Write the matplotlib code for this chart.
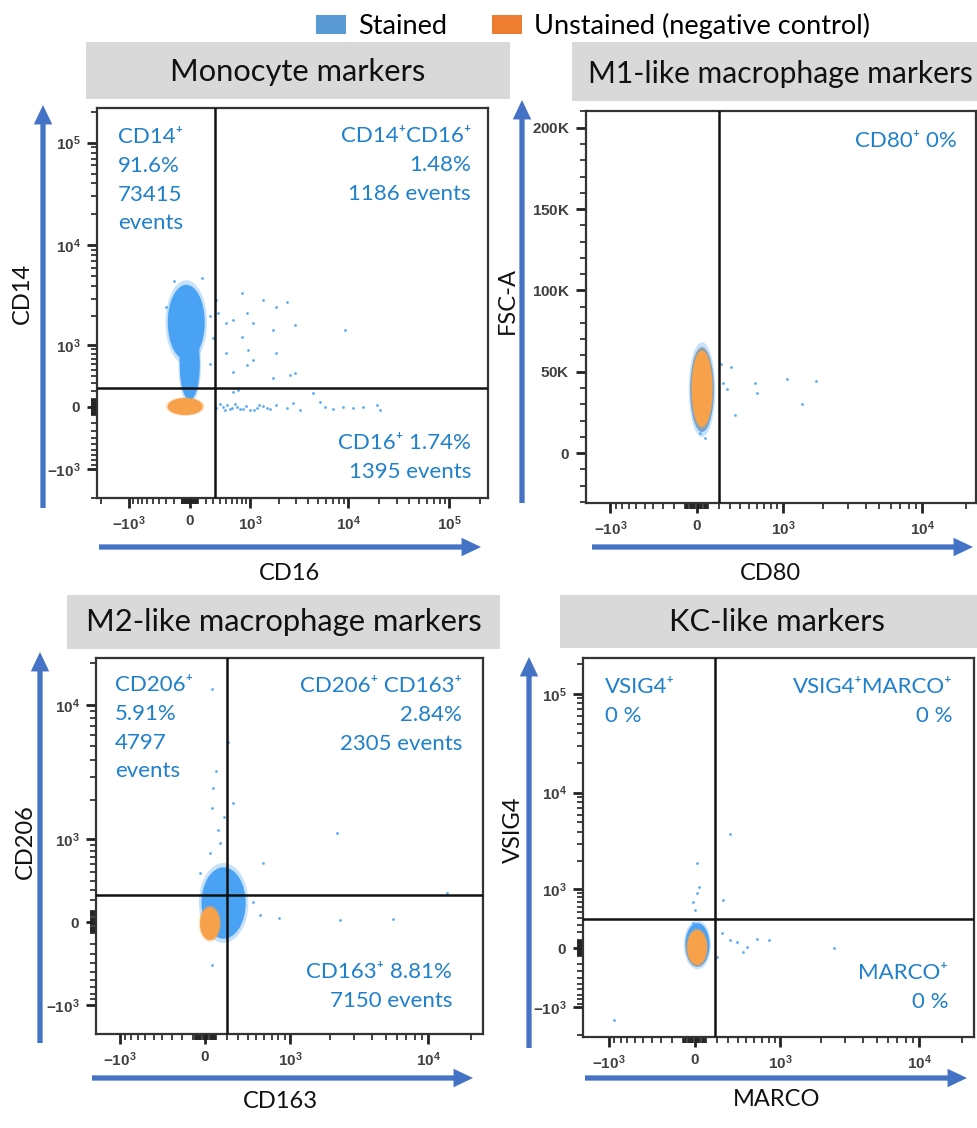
import numpy as np
import matplotlib
matplotlib.use("Agg")
import matplotlib.pyplot as plt
from matplotlib.patches import Ellipse, Rectangle, Patch, FancyArrowPatch
from matplotlib.ticker import FixedLocator, FixedFormatter

plt.rcParams['font.family'] = ['Lato', 'DejaVu Sans']
plt.rcParams['mathtext.fontset'] = 'custom'
plt.rcParams['mathtext.rm'] = 'Liberation Sans'
plt.rcParams['mathtext.bf'] = 'Liberation Sans:bold'

W, H = 977, 1128
STAIN = "#4aa2f4"
UNSTAIN = "#f7a24a"
TEXT_BLUE = "#1f80cc"
ARROW_BLUE = "#4472c4"
LEG_BLUE = "#5b9bd5"
LEG_ORANGE = "#ed7d31"

# ---------------- data ----------------
titles = ["Monocyte markers", "M1-like macrophage markers",
          "M2-like macrophage markers", "KC-like markers"]
x_labels = ["CD16", "CD80", "CD163", "MARCO"]
y_labels = ["CD14", "FSC-A", "CD206", "VSIG4"]

x_limits = [(-2190, 242000), (-1530, 23600), (-1520, 24300), (-1570, 24100)]
y_limits = [(-2020, 217000), (-30700, 210300), (-1690, 21900), (-2090, 230600)]
gate_x = [322, 193, 195, 180]
gate_y = [235, None, 249, 385]

log_major = [-1000, 0, 1000, 10000, 100000]
log_major_labels = [r"$\mathbf{-10^{3}}$", r"$\mathbf{0}$", r"$\mathbf{10^{3}}$",
                    r"$\mathbf{10^{4}}$", r"$\mathbf{10^{5}}$"]
fsc_major = [0, 50000, 100000, 150000, 200000]
fsc_major_labels = [r"$\mathbf{0}$", r"$\mathbf{50K}$", r"$\mathbf{100K}$",
                    r"$\mathbf{150K}$", r"$\mathbf{200K}$"]

# dense populations as (x_low, x_high, y_low, y_high)
stained_pops = [
    [(-280, 187, 675, 4120), (-124, 124, 84, 1460)],
    [(-55, 150, 13000, 65000)],
    [(-30, 380, -150, 560), (0, 300, -100, 450)],
    [(-80, 130, -240, 330)],
]
unstained_pops = [
    [(-280, 160, -96, 108)],
    [(-43, 138, 16000, 63000)],
    [(-43, 131, -163, 135)],
    [(-64, 108, -217, 231)],
]

# sparse stained events
mono_x = [347, 447, 561, 690, 830, 990, 1170, 1380, 1620, 1900, 2410, 2810, 3280,
          4460, 5200, 5830, 7060, 8880, 11180, 14020, 19050, 20540, 620, 720,
          400, 480, 520, 600, 650, 760, 900, 1100, 1250, 1500,
          347, 371, 503, 620, 792, 905, 1070, 1380, 1900, 2410, 2920, 1755, 792,
          942, 503, 1070, 1900, 9210, 2600, 2920, 1755, 620, 905,
          -300, 250, 300, -200, 150, 250]
mono_y = [-16, 4, -28, -4, -20, -36, -12, 12, -28, 24, -16, 44, -36,
          167, 64, 4, -28, 4, -16, -4, 24, -36, 187, 209,
          30, -40, 20, -10, 40, -30, 10, -40, 20, -10,
          2920, 2160, 1710, 1850, 3410, 2160, 1710, 2920, 2510, 2810, 1640, 1455, 1237,
          886, 808, 674, 808, 1455, 418, 444, 369, 470, 582,
          2500, 2000, 1200, 4500, 4800, 600]
m1_x = [217, 312, 238, 273, 573, 600, 346, 1085, 1787, 1390, 26, 69]
m1_y = [54700, 52700, 43200, 39200, 43200, 36700, 23400, 45300, 44300, 30100, 12300, 9200]
m2_x = [63, 201, 96, 72, 58, 170, 248, 116, 131, 43, 2258, 585, 812, 2360, 5660,
        544, 463, 61, 13500, -43]
m2_y = [13000, 5410, 3300, 2460, 1745, 1500, 1900, 1190, 920, 755, 1130, 615, 33,
        18, 24, 63, 185, -418, 266, 484]
kc_x = [323, 19, 41, 19, -16, 4, 257, 242, 323, 392, 505, 631, 813, 465, 2514,
        195, -10, -915]
kc_y = [3770, 1915, 1050, 882, 697, 538, 742, 187, 100, 79, 16, 109, 100, -46, 0,
        -109, 326, -1380]
events_x = [mono_x, m1_x, m2_x, kc_x]
events_y = [mono_y, m1_y, m2_y, kc_y]

quad_text = [
    [("CD14⁺\n91.6%\n73415\nevents", "left", 118, 127),
     ("CD14⁺CD16⁺\n1.48%\n1186 events", "right", 471, 126),
     ("CD16⁺ 1.74%\n1395 events", "right", 471, 433)],
    [("CD80⁺ 0%", "right", 957, 131)],
    [("CD206⁺\n5.91%\n4797\nevents", "left", 115, 675),
     ("CD206⁺ CD163⁺\n2.84%\n2305 events", "right", 462, 676),
     ("CD163⁺ 8.81%\n7150 events", "right", 452, 962)],
    [("VSIG4⁺\n0 %", "left", 605, 677),
     ("VSIG4⁺MARCO⁺\n0 %", "right", 953, 677),
     ("MARCO⁺\n0 %", "right", 948, 963)],
]

# ---------------- layout (pixels) ----------------
axes_px = [(97, 108, 488, 498), (586, 111, 976, 503),
           (96, 658, 483, 1034), (583, 658, 974, 1037)]
title_box_px = [(86, 42, 510, 99), (572, 42, 990, 101),
                (67, 595, 500, 649), (560, 595, 990, 648)]
title_pos_px = [(298, 72, "center", 22.2), (588, 74, "left", 21.6),
                (284, 622, "center", 22.2), (777, 622, "center", 22.2)]
varrow_px = [(43, 508, 105), (522, 503, 100), (40, 1043, 652), (529, 1048, 657)]
harrow_px = [(547, 99, 481), (547, 592, 973), (1078, 92, 473), (1078, 585, 967)]
ylabel_px = [(22, 293), (507, 300), (25, 842), (513, 830)]
xlabel_px = [(290, 574), (770, 574), (280, 1102), (777, 1100)]


def fx(px):
    return px / W


def fy(py):
    return 1 - py / H


def draw_pop(ax, box, color, alpha=1.0, grow=1.0):
    xlo, xhi, ylo, yhi = box
    (x0, y0), (x1, y1) = ax.transScale.transform([(xlo, ylo), (xhi, yhi)])
    e = Ellipse(((x0 + x1) / 2, (y0 + y1) / 2), (x1 - x0) * grow, (y1 - y0) * grow,
                transform=ax.transLimits + ax.transAxes, facecolor=color,
                edgecolor="none", alpha=alpha, zorder=2)
    ax.add_artist(e)


log_minor = [s * k * 10 ** n for s in (-1, 1) for n in (1, 2, 3, 4, 5)
             for k in range(1, 10) if not (k == 1 and n >= 3)]

fig = plt.figure(figsize=(W / 100, H / 100), dpi=100)

for i in range(4):
    x0, y0, x1, y1 = axes_px[i]
    ax = fig.add_axes([fx(x0), fy(y1), fx(x1 - x0), (y1 - y0) / H])
    ax.set_xscale("asinh", linear_width=535)
    if i == 1:
        ax.set_yscale("linear")
    else:
        ax.set_yscale("asinh", linear_width=535)
    ax.set_xlim(*x_limits[i])
    ax.set_ylim(*y_limits[i])

    ax.xaxis.set_major_locator(FixedLocator(log_major))
    ax.xaxis.set_major_formatter(FixedFormatter(log_major_labels))
    ax.xaxis.set_minor_locator(FixedLocator(log_minor))
    if i == 1:
        ax.yaxis.set_major_locator(FixedLocator(fsc_major))
        ax.yaxis.set_major_formatter(FixedFormatter(fsc_major_labels))
        ax.yaxis.set_minor_locator(FixedLocator(np.arange(-30000, 210001, 10000)))
    else:
        ax.yaxis.set_major_locator(FixedLocator(log_major))
        ax.yaxis.set_major_formatter(FixedFormatter(log_major_labels))
        ax.yaxis.set_minor_locator(FixedLocator(log_minor))

    ax.tick_params(which="major", length=7.5, width=2.0, color="#222222",
                   labelsize=11, labelcolor="#404040", pad=4)
    ax.tick_params(which="minor", length=4, width=1.2, color="#222222")
    for sp in ax.spines.values():
        sp.set_linewidth(1.6)
        sp.set_color("#333333")

    for box in stained_pops[i]:
        draw_pop(ax, box, STAIN, alpha=0.3, grow=1.12)
    for box in stained_pops[i]:
        draw_pop(ax, box, STAIN)
    ax.scatter(events_x[i], events_y[i], s=4, color=STAIN, lw=0, alpha=0.9, zorder=2)
    for box in unstained_pops[i]:
        draw_pop(ax, box, UNSTAIN, alpha=0.4, grow=1.1)
        draw_pop(ax, box, UNSTAIN)

    ax.axvline(gate_x[i], color="#111111", lw=1.8, zorder=4)
    if gate_y[i] is not None:
        ax.axhline(gate_y[i], color="#111111", lw=1.8, zorder=4)

    # quadrant statistics
    for txt, ha, px, py in quad_text[i]:
        fig.text(fx(px), fy(py), txt, ha=ha, va="top", multialignment=ha,
                 color=TEXT_BLUE, fontsize=16, linespacing=1.55)

    # title boxes
    bx0, by0, bx1, by1 = title_box_px[i]
    fig.patches.append(Rectangle((fx(bx0), fy(by1)), fx(bx1 - bx0), (by1 - by0) / H,
                                 transform=fig.transFigure, facecolor="#d9d9d9",
                                 edgecolor="none", zorder=0))
    tx, ty, tha, tsize = title_pos_px[i]
    fig.text(fx(tx), fy(ty), titles[i], ha=tha, va="center", fontsize=tsize, color="#111111")

    # axis arrows
    vx, vy0, vy1 = varrow_px[i]
    hy, hx0, hx1 = harrow_px[i]
    for a, b in [((fx(vx), fy(vy0)), (fx(vx), fy(vy1))),
                 ((fx(hx0), fy(hy)), (fx(hx1), fy(hy)))]:
        fig.patches.append(FancyArrowPatch(a, b, transform=fig.transFigure,
                                           arrowstyle="simple,head_length=1.0,head_width=0.95,tail_width=0.27",
                                           mutation_scale=14, color=ARROW_BLUE,
                                           shrinkA=0, shrinkB=0, lw=0))

    lx, ly = ylabel_px[i]
    fig.text(fx(lx), fy(ly), y_labels[i], rotation=90, ha="center", va="center",
             fontsize=17, color="#111111")
    lx, ly = xlabel_px[i]
    fig.text(fx(lx), fy(ly), x_labels[i], ha="center", va="center",
             fontsize=17, color="#111111")

fig.legend(handles=[Patch(facecolor=LEG_BLUE, label="Stained"),
                    Patch(facecolor=LEG_ORANGE, label="Unstained (negative control)")],
           loc="upper center", bbox_to_anchor=(0.607, 1.01), ncol=2, frameon=False,
           fontsize=19.5, handlelength=1.1, handleheight=0.67, handletextpad=0.45,
           columnspacing=1.65)

fig.savefig("out.png", dpi=100)
